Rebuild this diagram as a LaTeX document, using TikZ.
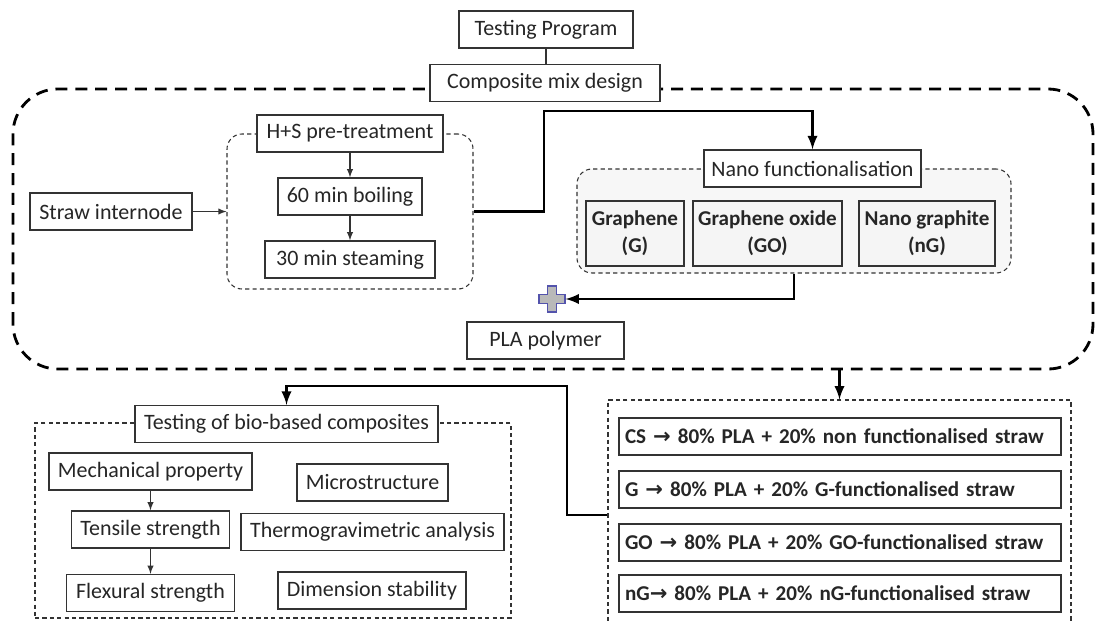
\documentclass[tikz,border=0pt]{standalone}
\usepackage{fontspec}
\setmainfont{Carlito}
\newfontfamily\arrowfont{DejaVu Sans}
\newcommand{\mixarrow}{{\arrowfont\bfseries →}}
\tikzset{
  box/.style={draw=black!80, line width=0.8pt, fill=white, minimum height=0.74cm, inner xsep=0.15cm, text=black!85, font=\fontsize{12.5}{15}\selectfont},
  agent/.style={box, fill=gray!8, align=center, inner xsep=0.06cm, minimum height=1.3cm, font=\fontsize{12}{15.5}\selectfont\bfseries},
  mixrow/.style={box, text width=8.6cm, inner xsep=0.12cm, align=left, font=\fontsize{12}{15}\selectfont\bfseries},
  smalldash/.style={draw=black!80, line width=0.6pt, dash pattern=on 2.4pt off 1.8pt},
  bigdash/.style={draw=black, line width=1.6pt, dash pattern=on 6.8pt off 4.5pt},
  flow/.style={line width=1.6pt, -latex},
  thin flow/.style={draw=black!80, line width=0.6pt, -latex},
}
\begin{document}
\begin{tikzpicture}
    \useasboundingbox (0,0) rectangle (21.98,12.4);
    \draw[bigdash, rounded corners=0.9cm] (0.26,5.02) rectangle (21.86,10.62);
    \node[box, minimum width=3.48cm] (prog) at (10.92,11.81) {Testing Program};
    \node[box, minimum width=4.6cm] (design) at (10.90,10.74) {Composite mix design};
    \draw[draw=black!80, line width=0.6pt] (prog.south) -- (prog.south |- design.north);

    \node[smalldash, rounded corners=0.3cm, minimum width=4.92cm, minimum height=3.1cm] (hsgroup) at (7.00,8.17) {};
    \node[box, minimum width=3.72cm] (hs) at (7.00,9.73) {H+S pre-treatment};
    \node[box, minimum width=2.88cm] (boil) at (7.00,8.47) {60 min boiling};
    \node[box, minimum width=3.40cm] (steam) at (7.00,7.21) {30 min steaming};
    \node[box, minimum width=3.24cm] (straw) at (2.22,8.17) {Straw internode};
    \draw[thin flow] (hs) -- (boil);
    \draw[thin flow] (boil) -- (steam);
    \draw[thin flow] (straw) -- (hsgroup);

    \node[smalldash, fill=gray!6, rounded corners=0.3cm, minimum width=8.68cm, minimum height=2.08cm] (nanogroup) at (15.88,7.98) {};
    \node[box, minimum width=4.06cm] (nano) at (16.25,9.03) {Nano functionalisation};
    \node[agent, minimum width=1.96cm] (gr) at (12.70,7.73) {Graphene\\(G)};
    \node[agent, minimum width=2.98cm] (grox) at (15.35,7.73) {Graphene oxide\\(GO)};
    \node[agent, minimum width=2.72cm] (ngr) at (18.54,7.73) {Nano graphite\\(nG)};
    \draw[flow] (hsgroup.east) -- (10.88,8.17) -- (10.88,10.18) -| (nano.north);

    \coordinate (plus) at (11.04,6.42);
    \coordinate (plusend) at (11.31,6.42);
    \draw[draw=blue!35!gray, fill=gray!55, line width=0.8pt] (plus) ++(-0.09,0.26) -- ++(0.18,0) -- ++(0,-0.17) -- ++(0.17,0) -- ++(0,-0.18) -- ++(-0.17,0) -- ++(0,-0.17) -- ++(-0.18,0) -- ++(0,0.17) -- ++(-0.17,0) -- ++(0,0.18) -- ++(0.17,0) -- cycle;
    \draw[flow] (nanogroup.south) |- (plusend);
    \node[box, minimum width=3.14cm] (pla) at (10.91,5.59) {PLA polymer};

    \node[smalldash, minimum width=9.26cm, minimum height=4.6cm] (mixgroup) at (16.79,2.10) {};
    \coordinate (designout) at (16.79,5.02);
    \draw[flow] (designout) -- (mixgroup.north);
    \node[mixrow] (cs) at (16.80,3.67) {CS \mixarrow{} 80\% PLA + 20\% non functionalised straw};
    \node[mixrow] (gmix) at (16.80,2.61) {G \mixarrow{} 80\% PLA + 20\% G-functionalised straw};
    \node[mixrow] (gomix) at (16.80,1.55) {GO \mixarrow{} 80\% PLA + 20\% GO-functionalised straw};
    \node[mixrow] (ngmix) at (16.80,0.53) {nG\mixarrow{} 80\% PLA + 20\% nG-functionalised straw};

    \node[smalldash, minimum width=9.52cm, minimum height=3.9cm] (testgroup) at (5.46,1.99) {};
    \node[box, minimum width=6.06cm] (bio) at (5.73,3.92) {Testing of bio-based composites};
    \draw[flow] (mixgroup.west) -- (11.34,2.10) -- (11.34,4.68) -| (bio.north);
    \node[box, minimum width=4.06cm] (mech) at (3.01,2.97) {Mechanical property};
    \node[box, minimum width=3.16cm] (tensile) at (3.01,1.81) {Tensile strength};
    \node[box, minimum width=3.36cm] (flex) at (3.01,0.54) {Flexural strength};
    \node[box, minimum width=3.02cm] (micro) at (7.45,2.75) {Microstructure};
    \node[box, minimum width=5.26cm] (tga) at (7.45,1.76) {Thermogravimetric analysis};
    \node[box, minimum width=3.76cm] (dim) at (7.44,0.59) {Dimension stability};
    \draw[thin flow] (mech) -- (tensile);
    \draw[thin flow] (tensile) -- (flex);
\end{tikzpicture}
\end{document}
